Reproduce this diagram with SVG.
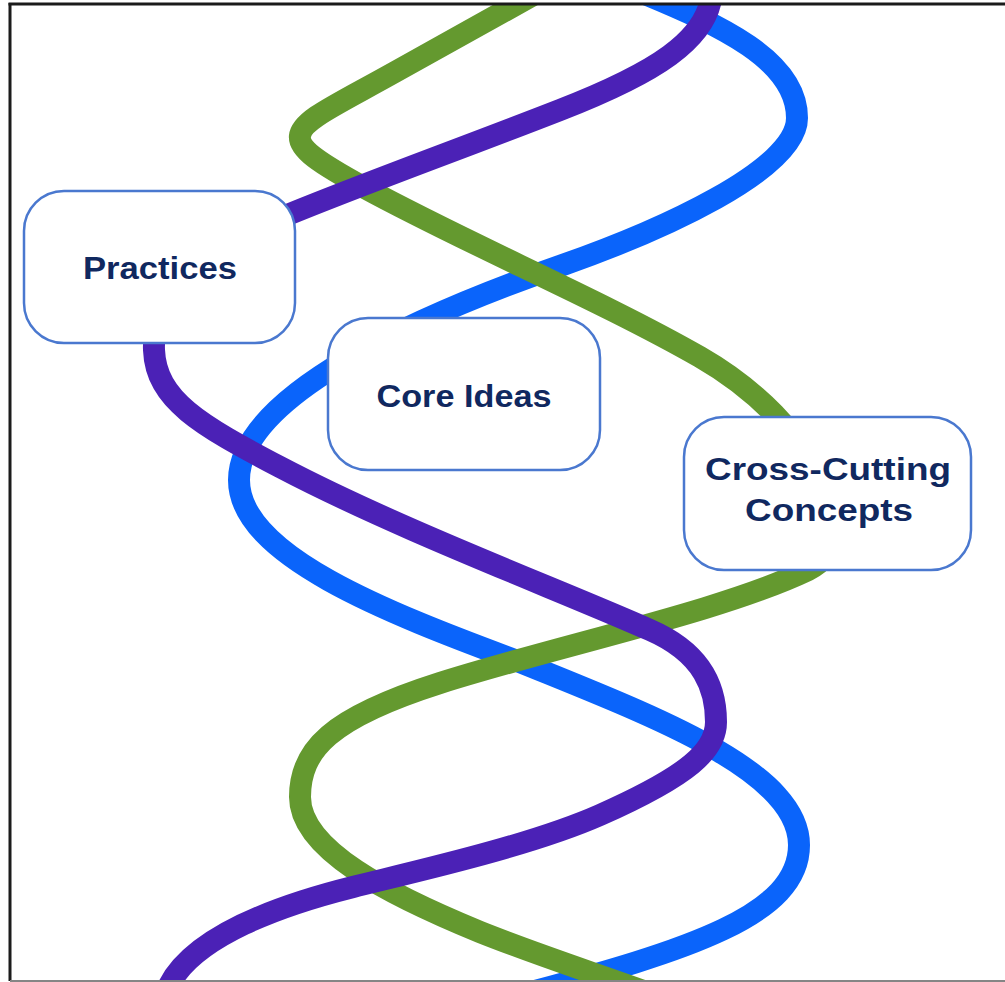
<svg xmlns="http://www.w3.org/2000/svg" width="1005" height="982" viewBox="0 0 1005 982">
<defs>
<style>
.strand{fill:none;stroke-width:22;stroke-linecap:butt;stroke-linejoin:round}
.blue{stroke:#0a64fb}
.green{stroke:#64992f}
.purple{stroke:#4b21b6}
.box{fill:#ffffff;stroke:#4a78cf;stroke-width:2.5}
.label{font-family:"Liberation Sans",Arial,Helvetica,sans-serif;font-weight:bold;font-size:31px;fill:#10285f;text-anchor:middle}
.frame{stroke:#1b1b1b;stroke-width:3;fill:none}
</style>
<clipPath id="inside"><rect x="10" y="5" width="995" height="975"/></clipPath>
</defs>
<rect width="1005" height="982" fill="#ffffff"/>
<g id="connectors" clip-path="url(#inside)">
<path id="strand-blue" class="strand blue" d="M 640 -8 C 720 25 797 60 797 118 C 797 170 660 231 560 266 C 420 315 239 395 239 480 C 239 555 385 612 520 662 C 650 715 799 770 799 845 C 799 915 690 950 520 995"/>
<path id="strand-green" class="strand green" d="M 535 -6 L 395 72 C 288 132 262 132 365 188 C 470 245 600 300 700 357 C 815 423 870 540 808 570 C 720 612 560 645 440 683 C 330 718 300 750 300 797 C 300 850 390 895 480 932 C 540 956 600 975 660 997"/>
<path id="strand-purple" class="strand purple" d="M 712 -12 C 712 40 650 75 560 110 C 460 149 360 185 285 216 C 190 255 152 300 154 350 C 156 400 200 425 280 467 C 400 530 560 590 650 630 C 705 654 716 690 716 722 C 716 750 690 775 600 815 C 530 846 413 872 353 887 C 293 902 185 935 165 995"/>
</g>
<g id="node-practices">
<rect class="box" x="24" y="191" width="271" height="152" rx="40" ry="40"/>
<text class="label" x="160" y="279" textLength="154" lengthAdjust="spacingAndGlyphs">Practices</text>
</g>
<g id="node-core-ideas">
<rect class="box" x="328" y="318" width="272" height="152" rx="40" ry="40"/>
<text class="label" x="464" y="407" textLength="175" lengthAdjust="spacingAndGlyphs">Core Ideas</text>
</g>
<g id="node-cross-cutting">
<rect class="box" x="684" y="417" width="287" height="153" rx="40" ry="40"/>
<text class="label" x="828" y="480" textLength="246" lengthAdjust="spacingAndGlyphs">Cross-Cutting</text>
<text class="label" x="829" y="521" textLength="168" lengthAdjust="spacingAndGlyphs">Concepts</text>
</g>
<g id="frame">
<line class="frame" x1="8.5" y1="4" x2="1005" y2="4"/>
<line class="frame" x1="10" y1="3" x2="10" y2="981"/>
<line x1="10" y1="981" x2="1005" y2="981" stroke="#858585" stroke-width="2"/>
</g>
</svg>
